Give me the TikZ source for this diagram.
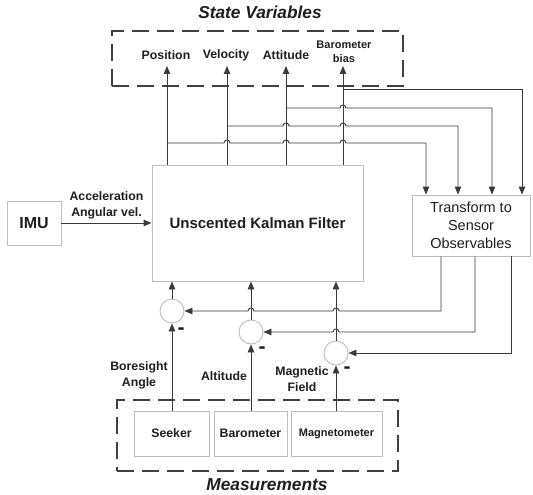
\documentclass[tikz,border=0pt]{standalone}
\usepackage{fontspec}
\setmainfont{Liberation Sans}
\usetikzlibrary{arrows.meta}
\definecolor{lc}{HTML}{3A3A3A}
\definecolor{bc}{HTML}{BDBDBD}
\definecolor{dc}{HTML}{404040}
\definecolor{tc}{HTML}{1E1E1E}
\begin{document}
\begin{tikzpicture}[x=1pt,y=1pt,
  every node/.style={text=tc, align=center, inner sep=0pt},
  lbl/.style={font=\bfseries\fontsize{12.3}{15.5}\selectfont},
  ttl/.style={font=\bfseries\itshape\fontsize{17.3}{20}\selectfont},
  ln/.style={draw=lc, line width=0.9pt},
  arr/.style={ln, -{Triangle[length=8pt,width=6.5pt]}},
  gbox/.style={draw=bc, line width=0.9pt, fill=white},
  sumc/.style={draw=bc, line width=0.9pt, fill=white, circle, minimum size=24pt},
  dbox/.style={draw=dc, line width=1.8pt, dash pattern=on 17pt off 8pt},
  minus/.style={font=\bfseries\fontsize{21}{21}\selectfont},
]
\useasboundingbox (0,0) rectangle (533,-495);

% ---- State variables group
\node[ttl] (svt) at (260,-12) {State Variables};
\node[dbox, minimum width=291pt, minimum height=55pt] (svbox) at (257.5,-58.5) {};
\node[lbl] (pos) at (166,-55) {Position};
\node[lbl] (vel) at (226,-55) {Velocity};
\node[lbl] (att) at (286,-55) {Attitude};
\node[font=\bfseries\fontsize{11}{13.5}\selectfont] (bias) at (344,-52) {Barometer\\bias};
\coordinate (tp) at (167,-66);
\coordinate (tv) at (227,-66);
\coordinate (ta) at (286,-66);
\coordinate (tb) at (343,-66);

% ---- main boxes
\node[gbox, minimum width=211pt, minimum height=116pt, font=\bfseries\fontsize{15}{18}\selectfont] (ukf) at (257.5,-223) {Unscented Kalman Filter};
\node[gbox, minimum width=54pt, minimum height=44pt, font=\bfseries\fontsize{16}{18}\selectfont] (imu) at (34,-223) {IMU};
\node[gbox, minimum width=118pt, minimum height=61pt, font=\fontsize{14.5}{18}\selectfont] (tr) at (471,-225.5) {Transform to\\Sensor\\Observables};
\node[lbl, font=\bfseries\fontsize{12.3}{16}\selectfont] (acc) at (106.5,-205) {Acceleration\\Angular vel.};

% ---- IMU to UKF
\draw[arr] (imu.east) -- (imu.east -| ukf.west);

% ---- UKF to state variables
\draw[arr] (ukf.north -| tp) -- (tp);
\draw[arr] (ukf.north -| tv) -- (tv);
\draw[arr] (ukf.north -| ta) -- (ta);
\draw[arr] (ukf.north -| tb) -- (tb);

% ---- branches to transform (with hops)
\coordinate (jb) at (343,-89);
\coordinate (ja) at (286,-108);
\coordinate (jv) at (227,-126);
\coordinate (jp) at (167,-143);
\coordinate (ib) at (522,-89);
\coordinate (ia) at (492,-108);
\coordinate (iv) at (458,-126);
\coordinate (ip) at (426,-143);
\draw[arr] (jb) -- (ib) -- (ib |- tr.north);
\draw[arr] (ja) -- (340,-108) arc[start angle=180,end angle=0,radius=3pt] -- (ia) -- (ia |- tr.north);
\draw[arr] (jv) -- (283,-126) arc[start angle=180,end angle=0,radius=3pt]
  -- (340,-126) arc[start angle=180,end angle=0,radius=3pt] -- (iv) -- (iv |- tr.north);
\draw[arr] (jp) -- (224,-143) arc[start angle=180,end angle=0,radius=3pt]
  -- (283,-143) arc[start angle=180,end angle=0,radius=3pt]
  -- (340,-143) arc[start angle=180,end angle=0,radius=3pt] -- (ip) -- (ip |- tr.north);

% ---- summing junctions
\node[sumc] (c1) at (172,-311) {};
\node[sumc] (c2) at (251,-332) {};
\node[sumc] (c3) at (336,-353) {};
\draw[arr] (c1.north) -- (c1.north |- ukf.south);
\draw[arr] (c2.north) -- (c2.north |- ukf.south);
\draw[arr] (c3.north) -- (c3.north |- ukf.south);

% ---- feedback from transform
\coordinate (f1) at (441,-311);
\coordinate (f2) at (475,-332);
\coordinate (f3) at (511,-353);
\draw[arr] (tr.south -| f1) -- (f1) -- (339,-311) arc[start angle=0,end angle=180,radius=3pt]
  -- (254,-311) arc[start angle=0,end angle=180,radius=3pt] -- (c1.east);
\draw[arr] (tr.south -| f2) -- (f2) -- (339,-332) arc[start angle=0,end angle=180,radius=3pt] -- (c2.east);
\draw[arr] (tr.south -| f3) -- (f3) -- (c3.east);

% ---- minus signs
\node[minus] (m1) at (181,-331) {-};
\node[minus] (m2) at (262,-350) {-};
\node[minus] (m3) at (347,-370) {-};

% ---- measurement labels
\node[lbl] (bore) at (139,-375.5) {Boresight\\Angle};
\node[lbl] (alt) at (224,-376) {Altitude};
\node[lbl, font=\bfseries\fontsize{12.3}{16}\selectfont] (mag) at (302,-379) {Magnetic\\Field};

% ---- measurements group
\node[dbox, minimum width=281pt, minimum height=71pt] (mbox) at (257.5,-435.5) {};
\node[gbox, minimum width=75pt, minimum height=45pt, lbl] (seek) at (171.5,-433.5) {Seeker};
\node[gbox, minimum width=73pt, minimum height=45pt, lbl] (baro) at (250.5,-433.5) {Barometer};
\node[gbox, minimum width=91pt, minimum height=45pt, font=\bfseries\fontsize{11}{13}\selectfont] (magn) at (336.5,-433.5) {Magnetometer};
\node[ttl] (meas) at (267,-485) {Measurements};

\draw[arr] (c1 |- seek.north) -- (c1.south);
\draw[arr] (c2 |- baro.north) -- (c2.south);
\draw[arr] (c3 |- magn.north) -- (c3.south);
\end{tikzpicture}
\end{document}
